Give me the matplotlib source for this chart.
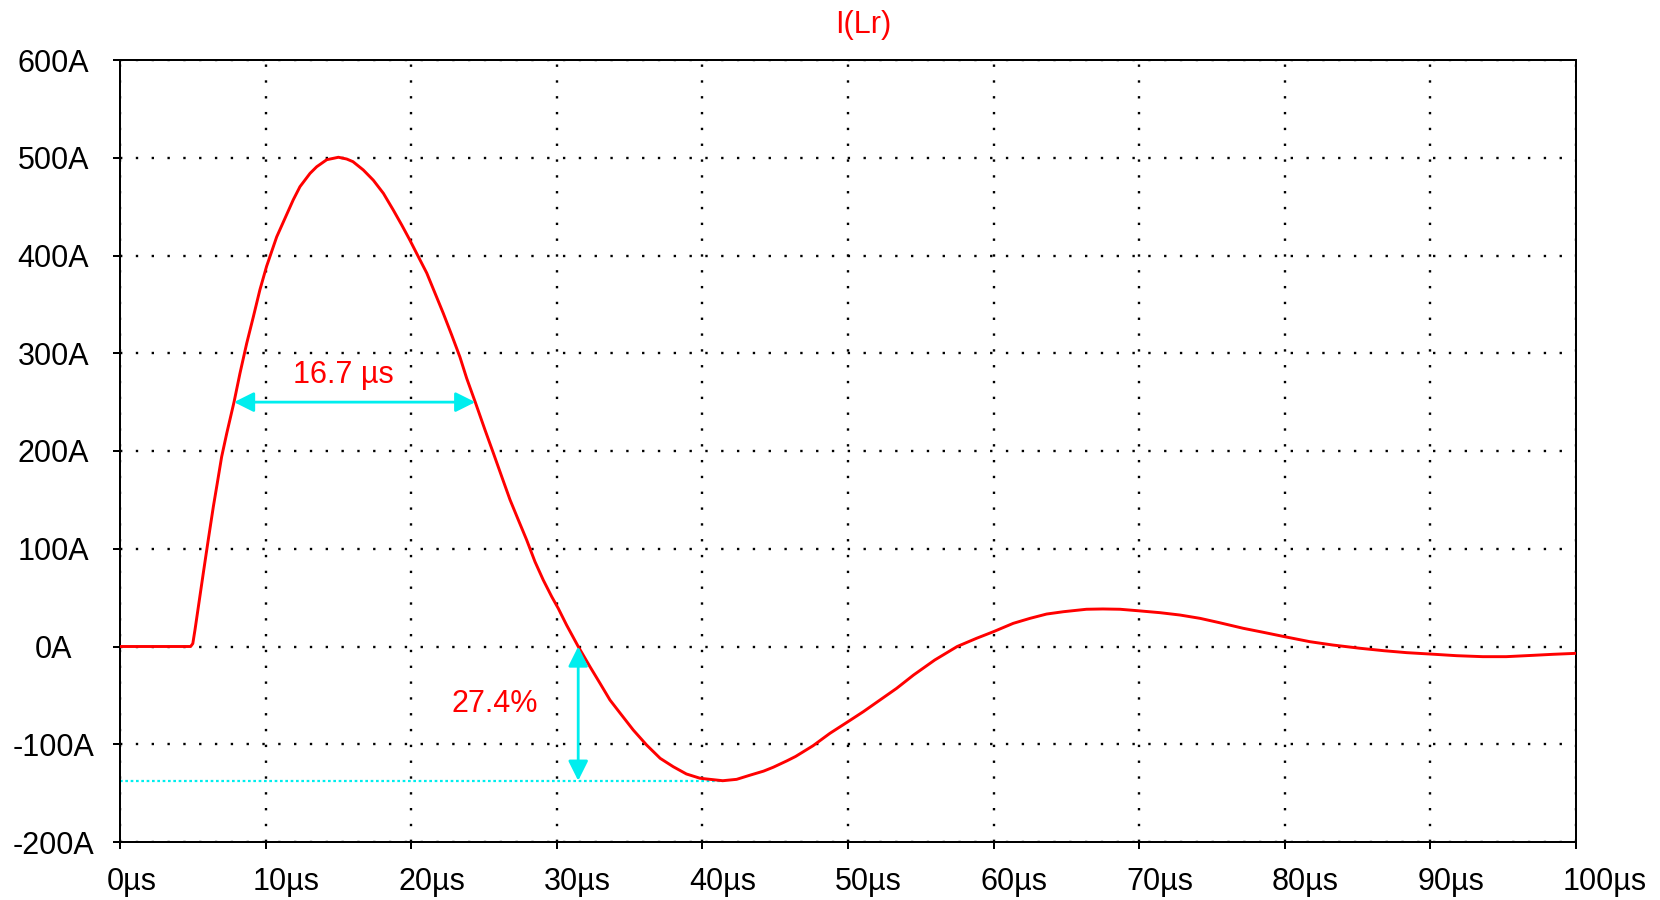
import matplotlib
matplotlib.use("Agg")
import matplotlib.pyplot as plt
import matplotlib.transforms as mtransforms

t_us = [0, 4.85, 5.0, 5.15, 5.72, 6.06, 6.41, 6.68, 6.98, 7.33, 7.83, 8.24,
        8.70, 9.16, 9.61, 10.07, 10.76, 11.9, 12.36, 13.05, 13.51, 14.2,
        14.65, 15.0, 15.57, 16.0, 16.71, 17.4, 18.09, 18.77, 19.35, 19.9,
        20.49, 21.07, 21.64, 22.2, 22.78, 23.35, 23.81, 24.4, 25.07, 25.64,
        26.22, 26.79, 27.36, 27.93, 28.5, 29.07, 29.65, 30.1, 30.67, 31.47,
        32.28, 32.97, 33.65, 34.34, 35.25, 36.17, 37.1, 38.0, 38.9, 39.84,
        41.4, 42.35, 43.3, 44.2, 44.87, 45.8, 46.4, 47.6, 48.76, 50.0, 51.05,
        52.2, 53.34, 54.5, 55.96, 57.5, 58.83, 59.98, 61.35, 62.5, 63.64,
        64.8, 66.38, 67.5, 68.68, 69.9, 71.43, 72.8, 74.18, 75.5, 77.15,
        78.53, 80.0, 81.73, 83.3, 85.16, 86.8, 88.37, 89.97, 91.8, 93.6,
        95.2, 97.1, 98.4, 100]
i_amp = [0, 0, 3, 17, 75, 109, 143, 167, 194, 218, 250, 279.5,
         310, 337.4, 365, 389, 419, 457, 470.4, 484, 490.8, 498,
         499.4, 500.5, 498.7, 496, 487.5, 477, 463.6, 446.5, 431.2, 416,
         398.8, 382, 361.3, 341, 318.7, 296, 274.4, 250, 221.5, 198,
         173.7, 150, 129.4, 109, 86.8, 68, 51, 39, 22, 0,
         -20.7, -37.7, -54.7, -68, -85.4, -100.8, -114.4, -123, -130.4, -134.8,
         -137.3, -135.9, -131.5, -127.5, -123.5, -117, -112.5, -101.5, -88.8, -76.9, -66.7,
         -54.7, -42.8, -29.2, -13.8, 0, 8.4, 15.1, 23.7, 28.8, 33.2,
         35.6, 38.1, 38.4, 38.1, 36.6, 34.6, 32.2, 28.8, 24.4, 18.6,
         14.5, 10, 4.9, 1.5, -1.8, -4.3, -6.3, -7.7, -9.4, -10.4,
         -10.4, -9, -8, -7]

x_ticks = [0, 10, 20, 30, 40, 50, 60, 70, 80, 90, 100]
x_labels = [f"{v}µs" for v in x_ticks]
y_ticks = [-200, -100, 0, 100, 200, 300, 400, 500, 600]
y_labels = [f"{v}A" for v in y_ticks]

# annotation values
width_t0, width_t1, width_level = 7.83, 24.4, 250
width_text = "16.7 µs"
zero_cross_t = 31.47
min_t, min_i = 41.4, -137.3
undershoot_text = "27.4%"

red = "#ff0000"
cyan = "#00eeee"
fs = 22

plt.rcParams["font.family"] = ["Liberation Sans", "DejaVu Sans"]

fig = plt.figure(figsize=(16.6, 9), dpi=100)
ax = fig.add_axes([120 / 1660, 58 / 900, 1456 / 1660, 782 / 900])

ax.plot(t_us, i_amp, color=red, lw=2.1, zorder=3, solid_joinstyle="round")

ax.set_xlim(0, 100)
ax.set_ylim(-200, 600)

for s in ax.spines.values():
    s.set_linewidth(1.44)
    s.set_color("black")

ax.tick_params(axis="both", direction="out", length=5, width=1.44,
               labelsize=fs, colors="black")
ax.tick_params(axis="x", pad=13)
ax.tick_params(axis="y", pad=43)

ax.set_xticks(x_ticks)
ax.set_xticklabels(x_labels)
ax.set_yticks(y_ticks)
ax.set_yticklabels(y_labels)

offset = mtransforms.ScaledTranslation(-13 / 100, 0, fig.dpi_scale_trans)
for lab in ax.get_xticklabels():
    lab.set_ha("left")
    lab.set_transform(lab.get_transform() + offset)
for lab in ax.get_yticklabels():
    lab.set_ha("center")

ax.grid(True, color="black", linestyle=(0, (1, 5.7)), linewidth=1.7,
        dash_capstyle="butt")
ax.set_axisbelow(True)

# pulse width arrow
ax.annotate("", xy=(width_t0, width_level), xytext=(width_t1, width_level),
            arrowprops=dict(arrowstyle="<|-|>,head_length=0.4,head_width=0.2",
                            color=cyan, lw=2, shrinkA=0, shrinkB=0,
                            mutation_scale=30), zorder=4)
ax.text((width_t0 + width_t1) / 2 - 0.8, 278, width_text, color=red,
        fontsize=fs, ha="center", va="center")

# undershoot arrow and level line
ax.plot([0, min_t], [min_i, min_i], color=cyan, lw=1.6,
        linestyle=(0, (1.2, 1.2)), zorder=2)
ax.annotate("", xy=(zero_cross_t, 0), xytext=(zero_cross_t, min_i),
            arrowprops=dict(arrowstyle="<|-|>,head_length=0.4,head_width=0.2",
                            color=cyan, lw=2, shrinkA=0, shrinkB=0,
                            mutation_scale=30), zorder=4)
ax.text(25.76, -59, undershoot_text, color=red, fontsize=fs,
        ha="center", va="center")

fig.text(863 / 1660, 1 - 25 / 900, "I(Lr)", color=red, fontsize=fs,
         ha="center", va="center")

fig.savefig("out.png", dpi=100)
